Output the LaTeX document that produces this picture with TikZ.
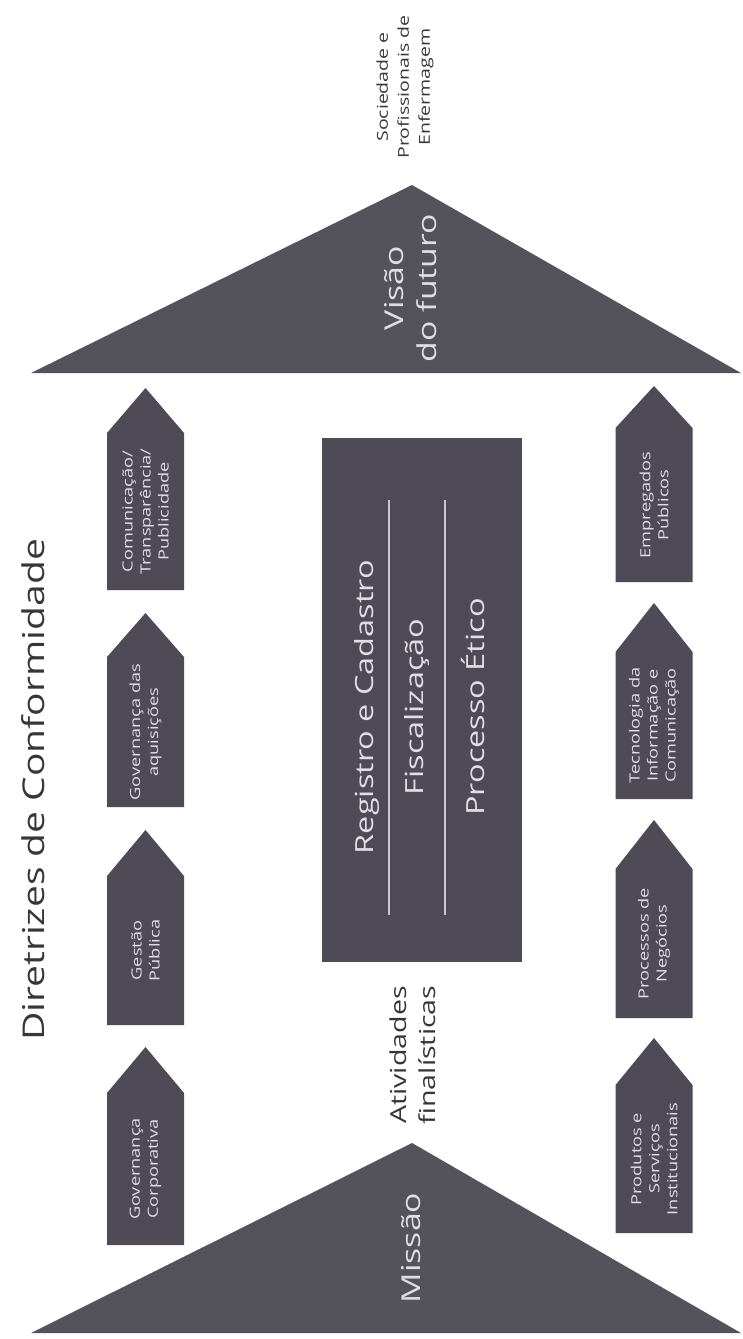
\documentclass[tikz,border=0pt]{standalone}
\usepackage{fontspec}
\newfontfamily\osf{Open Sans}[FakeStretch=1.3]
\definecolor{shapefill}{RGB}{78,75,87}
\definecolor{trifill}{RGB}{84,82,90}
\definecolor{lighttext}{RGB}{222,222,228}
\definecolor{darktext}{RGB}{55,55,58}
\definecolor{divider}{RGB}{200,200,206}
\tikzset{
  pentlabel/.style={rotate=90, align=center, text=lighttext, inner sep=0pt,
    font=\osf\fontsize{14}{18}\selectfont},
  biglabel/.style={rotate=90, align=center, text=lighttext, inner sep=0pt,
    font=\osf\fontsize{25}{31}\selectfont},
  outlabel/.style={rotate=90, align=center, text=darktext, inner sep=0pt},
}
\newcommand\pentbox[6]{%
  \fill[shapefill] (#2-38.5,#5) -- (#2-38.5,#4) -- (#2,#3) -- (#2+38.5,#4) -- (#2+38.5,#5) -- cycle;
  \node[pentlabel] (#1) at (#2,{(#4+#5)/2}) {#6};
}
\begin{document}
\begin{tikzpicture}[x=1pt,y=-1pt]
\useasboundingbox (0,0) rectangle (742,1339);
\fill[white] (0,0) rectangle (742,1339);

% top triangle
\fill[trifill] (31,373) -- (412,185) -- (741,373) -- cycle;
\node[outlabel, font=\osf\fontsize{15}{21}\selectfont] (soc) at (405,87)
  {Sociedade e\\Profissionais de\\Enfermagem};
\node[biglabel, font=\osf\fontsize{26}{33}\selectfont] (visao) at (411,288)
  {Visão\\do futuro};

% title
\node[outlabel, font=\osf\fontsize{30}{36}\selectfont] (title) at (33,790)
  {Diretrizes de Conformidade};

% left column
\pentbox{comu}{145.5}{388}{433}{590}{Comunicação/\\Transparência/\\Publicidade}
\pentbox{gova}{145.5}{613}{657}{807}{Governança das\\aquisições}
\pentbox{gest}{145.5}{830}{876}{1025}{Gestão\\Pública}
\pentbox{govc}{145.5}{1047}{1093}{1245}{Governança\\Corporativa}

% right column
\pentbox{empr}{654}{386}{428}{582}{Empregados\\Públicos}
\pentbox{tecn}{654}{603}{652}{799}{Tecnologia da\\Informação e\\Comunicação}
\pentbox{proc}{654}{820}{869}{1018}{Processos de\\Negócios}
\pentbox{prod}{654}{1038}{1085}{1233}{Produtos e\\Serviços\\Institucionais}

% central rectangle
\fill[shapefill] (322,438) rectangle (522,962);
\draw[divider, line width=1.2pt] (389,500) -- (389,915);
\draw[divider, line width=1.2pt] (445,500) -- (445,915);
\node[biglabel] (reg) at (367,707) {Registro e Cadastro};
\node[biglabel] (fis) at (417,707) {Fiscalização};
\node[biglabel] (pro) at (473,707) {Processo Ético};

\node[outlabel, font=\osf\fontsize{22}{29}\selectfont] (ativ) at (413,1055)
  {Atividades\\finalísticas};

% bottom triangle
\fill[trifill] (31,1333) -- (412,1143) -- (741,1333) -- cycle;
\node[biglabel, font=\osf\fontsize{26}{33}\selectfont] (missao) at (411,1248) {Missão};
\end{tikzpicture}
\end{document}
